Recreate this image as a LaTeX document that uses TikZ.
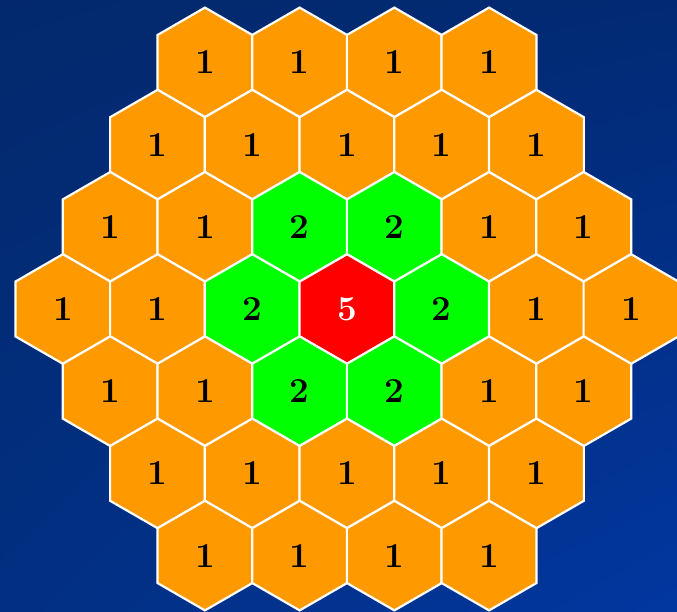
\documentclass[tikz,border=0pt]{standalone}
\usepackage{fontspec}
\usetikzlibrary{shapes.geometric,shadings}
\definecolor{bgul}{HTML}{03296C}
\definecolor{bgur}{HTML}{022A74}
\definecolor{bgll}{HTML}{022F82}
\definecolor{bglr}{HTML}{0237A0}
\definecolor{orangec}{HTML}{FF9900}
\definecolor{greenc}{HTML}{00FF00}
\definecolor{redc}{HTML}{FF0000}
\newcommand\cellfont{\fontsize{35}{35}\selectfont\bfseries}
\tikzset{
  hexcell/.style={regular polygon, regular polygon sides=6, shape border rotate=30,
    minimum size=109.6pt, inner sep=0pt, outer sep=0pt, draw=white, line width=2.2pt,
    font=\cellfont},
  cell1/.style={hexcell, fill=orangec, text=black},
  cell2/.style={hexcell, fill=greenc, text=black},
  cell5/.style={hexcell, fill=redc, text=white},
}
\begin{document}
\begin{tikzpicture}[x=1pt, y=-1pt]
\useasboundingbox (0,0) rectangle (677,611);
\shade[upper left=bgul, upper right=bgur, lower left=bgll, lower right=bglr] (0,0) rectangle (677,611);
\begin{scope}
\clip (0,0) rectangle (677,611);
\foreach \r/\lst in {0/{1,1,1,1}, 1/{1,1,1,1,1}, 2/{1,1,2,2,1,1}, 3/{1,1,2,5,2,1,1}, 4/{1,1,2,2,1,1}, 5/{1,1,1,1,1}, 6/{1,1,1,1}} {
  \foreach \v [count=\i] in \lst {
    \pgfmathsetmacro\nn{7-abs(\r-3)}
    \pgfmathsetmacro\xx{347+(\i-(\nn+1)/2)*94.7}
    \pgfmathsetmacro\yy{309+(\r-3)*82.2}
    \node[cell\v] (h-\r-\i) at (\xx,\yy) {\v};
  }
}
\end{scope}
\end{tikzpicture}
\end{document}
